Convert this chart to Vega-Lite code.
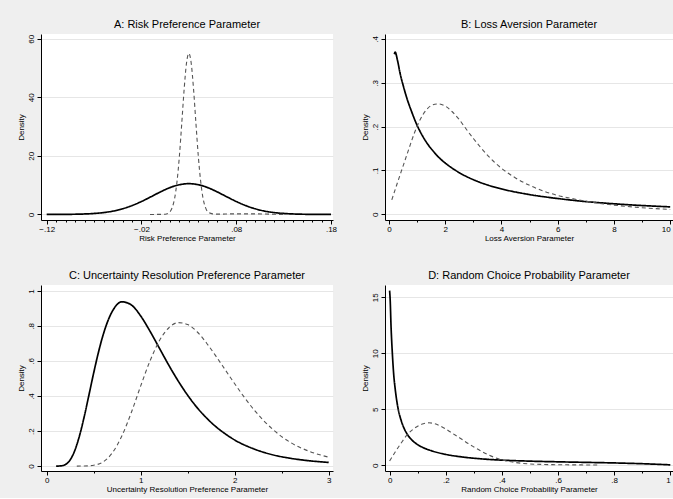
{
  "$schema": "https://vega.github.io/schema/vega-lite/v6.json",
  "background": "#efefef",
  "padding": {"left": 17, "top": 19, "right": 0, "bottom": 5},
  "columns": 2,
  "bounds": "flush",
  "spacing": {"row": 65, "column": 52},
  "datasets": {
    "A": [
      {"x": -0.12, "y": 0.004, "series": "s1"}, {"x": -0.11, "y": 0.012, "series": "s1"},
      {"x": -0.10, "y": 0.03, "series": "s1"}, {"x": -0.09, "y": 0.07, "series": "s1"},
      {"x": -0.08, "y": 0.16, "series": "s1"}, {"x": -0.07, "y": 0.33, "series": "s1"},
      {"x": -0.06, "y": 0.64, "series": "s1"}, {"x": -0.05, "y": 1.14, "series": "s1"},
      {"x": -0.04, "y": 1.93, "series": "s1"}, {"x": -0.03, "y": 3.02, "series": "s1"},
      {"x": -0.02, "y": 4.42, "series": "s1"}, {"x": -0.01, "y": 6.03, "series": "s1"},
      {"x": 0.0, "y": 7.69, "series": "s1"}, {"x": 0.01, "y": 9.15, "series": "s1"},
      {"x": 0.02, "y": 10.14, "series": "s1"}, {"x": 0.03, "y": 10.5, "series": "s1"},
      {"x": 0.04, "y": 10.14, "series": "s1"}, {"x": 0.05, "y": 9.15, "series": "s1"},
      {"x": 0.06, "y": 7.69, "series": "s1"}, {"x": 0.07, "y": 6.03, "series": "s1"},
      {"x": 0.08, "y": 4.42, "series": "s1"}, {"x": 0.09, "y": 3.02, "series": "s1"},
      {"x": 0.10, "y": 1.93, "series": "s1"}, {"x": 0.11, "y": 1.14, "series": "s1"},
      {"x": 0.12, "y": 0.64, "series": "s1"}, {"x": 0.13, "y": 0.33, "series": "s1"},
      {"x": 0.14, "y": 0.16, "series": "s1"}, {"x": 0.15, "y": 0.07, "series": "s1"},
      {"x": 0.16, "y": 0.03, "series": "s1"}, {"x": 0.17, "y": 0.012, "series": "s1"},
      {"x": 0.18, "y": 0.004, "series": "s1"},
      {"x": -0.011, "y": 0, "series": "s2"}, {"x": 0.0, "y": 0.01, "series": "s2"},
      {"x": 0.005, "y": 0.08, "series": "s2"}, {"x": 0.01, "y": 0.9, "series": "s2"},
      {"x": 0.0125, "y": 2.4, "series": "s2"}, {"x": 0.015, "y": 5.5, "series": "s2"},
      {"x": 0.0175, "y": 11.2, "series": "s2"}, {"x": 0.02, "y": 19.8, "series": "s2"},
      {"x": 0.0225, "y": 31, "series": "s2"}, {"x": 0.025, "y": 42.6, "series": "s2"},
      {"x": 0.0275, "y": 51.6, "series": "s2"}, {"x": 0.03, "y": 55, "series": "s2"},
      {"x": 0.0325, "y": 51.6, "series": "s2"}, {"x": 0.035, "y": 42.6, "series": "s2"},
      {"x": 0.0375, "y": 31, "series": "s2"}, {"x": 0.04, "y": 19.8, "series": "s2"},
      {"x": 0.0425, "y": 11.2, "series": "s2"}, {"x": 0.045, "y": 5.5, "series": "s2"},
      {"x": 0.0475, "y": 2.4, "series": "s2"}, {"x": 0.05, "y": 0.9, "series": "s2"},
      {"x": 0.055, "y": 0.2, "series": "s2"}, {"x": 0.06, "y": 0.1, "series": "s2"},
      {"x": 0.08, "y": 0.2, "series": "s2"}, {"x": 0.10, "y": 0.2, "series": "s2"},
      {"x": 0.115, "y": 0.1, "series": "s2"}, {"x": 0.13, "y": 0, "series": "s2"}
    ],
    "B": [
      {"x": 0.19, "y": 0.365, "series": "s1"}, {"x": 0.22, "y": 0.37, "series": "s1"},
      {"x": 0.3, "y": 0.352, "series": "s1"}, {"x": 0.4, "y": 0.32, "series": "s1"},
      {"x": 0.5, "y": 0.295, "series": "s1"}, {"x": 0.64, "y": 0.264, "series": "s1"},
      {"x": 0.8, "y": 0.235, "series": "s1"}, {"x": 1.0, "y": 0.203, "series": "s1"},
      {"x": 1.2, "y": 0.178, "series": "s1"}, {"x": 1.4, "y": 0.158, "series": "s1"},
      {"x": 1.6, "y": 0.142, "series": "s1"}, {"x": 1.8, "y": 0.128, "series": "s1"},
      {"x": 2.0, "y": 0.117, "series": "s1"}, {"x": 2.5, "y": 0.095, "series": "s1"},
      {"x": 3.0, "y": 0.079, "series": "s1"}, {"x": 3.5, "y": 0.067, "series": "s1"},
      {"x": 4.0, "y": 0.058, "series": "s1"}, {"x": 5.0, "y": 0.045, "series": "s1"},
      {"x": 6.0, "y": 0.036, "series": "s1"}, {"x": 7.0, "y": 0.029, "series": "s1"},
      {"x": 8.0, "y": 0.024, "series": "s1"}, {"x": 9.0, "y": 0.02, "series": "s1"},
      {"x": 10.0, "y": 0.017, "series": "s1"},
      {"x": 0.1, "y": 0.033, "series": "s2"}, {"x": 0.3, "y": 0.072, "series": "s2"},
      {"x": 0.5, "y": 0.11, "series": "s2"}, {"x": 0.7, "y": 0.148, "series": "s2"},
      {"x": 0.9, "y": 0.185, "series": "s2"}, {"x": 1.1, "y": 0.215, "series": "s2"},
      {"x": 1.3, "y": 0.236, "series": "s2"}, {"x": 1.5, "y": 0.248, "series": "s2"},
      {"x": 1.75, "y": 0.252, "series": "s2"}, {"x": 2.0, "y": 0.247, "series": "s2"},
      {"x": 2.25, "y": 0.234, "series": "s2"}, {"x": 2.5, "y": 0.216, "series": "s2"},
      {"x": 2.75, "y": 0.194, "series": "s2"}, {"x": 3.0, "y": 0.173, "series": "s2"},
      {"x": 3.5, "y": 0.135, "series": "s2"}, {"x": 4.0, "y": 0.105, "series": "s2"},
      {"x": 4.5, "y": 0.083, "series": "s2"}, {"x": 5.0, "y": 0.066, "series": "s2"},
      {"x": 5.5, "y": 0.053, "series": "s2"}, {"x": 6.0, "y": 0.043, "series": "s2"},
      {"x": 6.5, "y": 0.036, "series": "s2"}, {"x": 7.0, "y": 0.030, "series": "s2"},
      {"x": 7.5, "y": 0.025, "series": "s2"}, {"x": 8.0, "y": 0.021, "series": "s2"},
      {"x": 9.0, "y": 0.015, "series": "s2"}, {"x": 10.0, "y": 0.011, "series": "s2"}
    ],
    "C": [
      {"x": 0.1, "y": 0.0, "series": "s1"}, {"x": 0.15, "y": 0.0012, "series": "s1"},
      {"x": 0.2, "y": 0.0094, "series": "s1"}, {"x": 0.25, "y": 0.036, "series": "s1"},
      {"x": 0.3, "y": 0.091, "series": "s1"}, {"x": 0.35, "y": 0.176, "series": "s1"},
      {"x": 0.4, "y": 0.285, "series": "s1"}, {"x": 0.45, "y": 0.408, "series": "s1"},
      {"x": 0.5, "y": 0.533, "series": "s1"}, {"x": 0.55, "y": 0.649, "series": "s1"},
      {"x": 0.6, "y": 0.749, "series": "s1"}, {"x": 0.7, "y": 0.886, "series": "s1"},
      {"x": 0.8, "y": 0.938, "series": "s1"}, {"x": 0.9, "y": 0.92, "series": "s1"},
      {"x": 1.0, "y": 0.857, "series": "s1"}, {"x": 1.1, "y": 0.769, "series": "s1"},
      {"x": 1.2, "y": 0.672, "series": "s1"}, {"x": 1.3, "y": 0.575, "series": "s1"},
      {"x": 1.4, "y": 0.485, "series": "s1"}, {"x": 1.5, "y": 0.404, "series": "s1"},
      {"x": 1.6, "y": 0.334, "series": "s1"}, {"x": 1.7, "y": 0.275, "series": "s1"},
      {"x": 1.8, "y": 0.225, "series": "s1"}, {"x": 1.9, "y": 0.184, "series": "s1"},
      {"x": 2.0, "y": 0.149, "series": "s1"}, {"x": 2.2, "y": 0.099, "series": "s1"},
      {"x": 2.4, "y": 0.065, "series": "s1"}, {"x": 2.6, "y": 0.044, "series": "s1"},
      {"x": 2.8, "y": 0.03, "series": "s1"}, {"x": 3.0, "y": 0.021, "series": "s1"},
      {"x": 0.32, "y": 0.0, "series": "s2"}, {"x": 0.4, "y": 0.0005, "series": "s2"},
      {"x": 0.5, "y": 0.005, "series": "s2"}, {"x": 0.6, "y": 0.024, "series": "s2"},
      {"x": 0.7, "y": 0.077, "series": "s2"}, {"x": 0.8, "y": 0.173, "series": "s2"},
      {"x": 0.9, "y": 0.306, "series": "s2"}, {"x": 1.0, "y": 0.458, "series": "s2"},
      {"x": 1.1, "y": 0.602, "series": "s2"}, {"x": 1.2, "y": 0.717, "series": "s2"},
      {"x": 1.3, "y": 0.79, "series": "s2"}, {"x": 1.4, "y": 0.819, "series": "s2"},
      {"x": 1.5, "y": 0.808, "series": "s2"}, {"x": 1.6, "y": 0.767, "series": "s2"},
      {"x": 1.7, "y": 0.703, "series": "s2"}, {"x": 1.8, "y": 0.628, "series": "s2"},
      {"x": 1.9, "y": 0.549, "series": "s2"}, {"x": 2.0, "y": 0.47, "series": "s2"},
      {"x": 2.2, "y": 0.325, "series": "s2"}, {"x": 2.4, "y": 0.212, "series": "s2"},
      {"x": 2.6, "y": 0.133, "series": "s2"}, {"x": 2.8, "y": 0.083, "series": "s2"},
      {"x": 3.0, "y": 0.051, "series": "s2"}
    ],
    "D": [
      {"x": 0.0, "y": 15.6, "series": "s1"}, {"x": 0.002, "y": 14.8, "series": "s1"},
      {"x": 0.005, "y": 12.5, "series": "s1"}, {"x": 0.01, "y": 9.9, "series": "s1"},
      {"x": 0.015, "y": 8.0, "series": "s1"}, {"x": 0.02, "y": 6.8, "series": "s1"},
      {"x": 0.03, "y": 5.1, "series": "s1"}, {"x": 0.04, "y": 4.1, "series": "s1"},
      {"x": 0.05, "y": 3.4, "series": "s1"}, {"x": 0.06, "y": 2.9, "series": "s1"},
      {"x": 0.08, "y": 2.25, "series": "s1"}, {"x": 0.1, "y": 1.85, "series": "s1"},
      {"x": 0.12, "y": 1.58, "series": "s1"}, {"x": 0.15, "y": 1.3, "series": "s1"},
      {"x": 0.2, "y": 0.98, "series": "s1"}, {"x": 0.25, "y": 0.78, "series": "s1"},
      {"x": 0.3, "y": 0.64, "series": "s1"}, {"x": 0.35, "y": 0.54, "series": "s1"},
      {"x": 0.4, "y": 0.47, "series": "s1"}, {"x": 0.5, "y": 0.38, "series": "s1"},
      {"x": 0.6, "y": 0.32, "series": "s1"}, {"x": 0.7, "y": 0.27, "series": "s1"},
      {"x": 0.8, "y": 0.22, "series": "s1"}, {"x": 0.9, "y": 0.15, "series": "s1"},
      {"x": 1.0, "y": 0.05, "series": "s1"},
      {"x": 0.0, "y": 0.4, "series": "s2"}, {"x": 0.02, "y": 1.2, "series": "s2"},
      {"x": 0.04, "y": 1.95, "series": "s2"}, {"x": 0.06, "y": 2.65, "series": "s2"},
      {"x": 0.08, "y": 3.15, "series": "s2"}, {"x": 0.1, "y": 3.5, "series": "s2"},
      {"x": 0.12, "y": 3.72, "series": "s2"}, {"x": 0.14, "y": 3.8, "series": "s2"},
      {"x": 0.16, "y": 3.72, "series": "s2"}, {"x": 0.18, "y": 3.52, "series": "s2"},
      {"x": 0.2, "y": 3.25, "series": "s2"}, {"x": 0.22, "y": 2.92, "series": "s2"},
      {"x": 0.25, "y": 2.45, "series": "s2"}, {"x": 0.28, "y": 1.95, "series": "s2"},
      {"x": 0.3, "y": 1.65, "series": "s2"}, {"x": 0.33, "y": 1.22, "series": "s2"},
      {"x": 0.36, "y": 0.85, "series": "s2"}, {"x": 0.4, "y": 0.5, "series": "s2"},
      {"x": 0.45, "y": 0.25, "series": "s2"}, {"x": 0.5, "y": 0.13, "series": "s2"},
      {"x": 0.55, "y": 0.08, "series": "s2"}, {"x": 0.6, "y": 0.06, "series": "s2"},
      {"x": 0.7, "y": 0.04, "series": "s2"}, {"x": 0.75, "y": 0.03, "series": "s2"}
    ]
  },
  "concat": [
    {
      "title": "A: Risk Preference Parameter",
      "width": 292,
      "height": 186,
      "data": {"name": "A"},
      "mark": {"type": "line", "interpolate": "monotone"},
      "encoding": {
        "x": {
          "field": "x", "type": "quantitative", "title": "Risk Preference Parameter",
          "scale": {"domain": [-0.126, 0.1821], "nice": false, "zero": false},
          "axis": {
            "values": [-0.12, -0.11, -0.1, -0.09, -0.08, -0.07, -0.06, -0.05, -0.04, -0.03, -0.02, -0.01, 0, 0.01, 0.02, 0.03, 0.04, 0.05, 0.06, 0.07, 0.08, 0.09, 0.1, 0.11, 0.12, 0.13, 0.14, 0.15, 0.16, 0.17, 0.18],
            "labelExpr": "round((datum.value + 0.12) * 100) % 10 == 0 ? replace(format(datum.value, '.2f'), '0.', '.') : ''",
            "tickSize": {"condition": {"test": "round((datum.value + 0.12) * 100) % 10 == 0", "value": 4}, "value": 2}
          }
        },
        "y": {
          "field": "y", "type": "quantitative", "title": "Density",
          "scale": {"domain": [-1.9, 61.6], "nice": false},
          "axis": {"values": [0, 20, 40, 60]}
        },
        "color": {"field": "series", "type": "nominal", "scale": {"domain": ["s1", "s2"], "range": ["#000000", "#555555"]}, "legend": null},
        "strokeDash": {"field": "series", "type": "nominal", "scale": {"domain": ["s1", "s2"], "range": [[1, 0], [4, 3]]}, "legend": null},
        "strokeWidth": {"field": "series", "type": "nominal", "scale": {"domain": ["s1", "s2"], "range": [1.7, 1.1]}, "legend": null}
      }
    },
    {
      "title": "B: Loss Aversion Parameter",
      "width": 288,
      "height": 186,
      "data": {"name": "B"},
      "mark": {"type": "line", "interpolate": "monotone"},
      "encoding": {
        "x": {
          "field": "x", "type": "quantitative", "title": "Loss Aversion Parameter",
          "scale": {"domain": [-0.142, 10.1], "nice": false, "zero": false},
          "axis": {
            "values": [0, 1, 2, 3, 4, 5, 6, 7, 8, 9, 10],
            "labelExpr": "datum.value % 2 == 0 ? format(datum.value, 'd') : ''",
            "labelAlign": {"condition": {"test": "datum.value == 10", "value": "right"}, "value": "center"},
            "tickSize": {"condition": {"test": "datum.value % 2 == 0", "value": 4}, "value": 2}
          }
        },
        "y": {
          "field": "y", "type": "quantitative", "title": "Density",
          "scale": {"domain": [-0.013, 0.4114], "nice": false},
          "axis": {"values": [0, 0.1, 0.2, 0.3, 0.4], "labelExpr": "replace(format(datum.value, '~g'), '0.', '.')"}
        },
        "color": {"field": "series", "type": "nominal", "scale": {"domain": ["s1", "s2"], "range": ["#000000", "#555555"]}, "legend": null},
        "strokeDash": {"field": "series", "type": "nominal", "scale": {"domain": ["s1", "s2"], "range": [[1, 0], [4, 3]]}, "legend": null},
        "strokeWidth": {"field": "series", "type": "nominal", "scale": {"domain": ["s1", "s2"], "range": [1.3, 1.1]}, "legend": null}
      }
    },
    {
      "title": "C: Uncertainty Resolution Preference Parameter",
      "width": 292,
      "height": 186,
      "data": {"name": "C"},
      "mark": {"type": "line", "interpolate": "monotone"},
      "encoding": {
        "x": {
          "field": "x", "type": "quantitative", "title": "Uncertainty Resolution Preference Parameter",
          "scale": {"domain": [-0.061, 3.046], "nice": false, "zero": false},
          "axis": {
            "values": [0, 0.5, 1, 1.5, 2, 2.5, 3],
            "labelExpr": "datum.value % 1 == 0 ? format(datum.value, 'd') : ''",
            "tickSize": {"condition": {"test": "datum.value % 1 == 0", "value": 4}, "value": 2}
          }
        },
        "y": {
          "field": "y", "type": "quantitative", "title": "Density",
          "scale": {"domain": [-0.028, 1.034], "nice": false},
          "axis": {"values": [0, 0.2, 0.4, 0.6, 0.8, 1], "labelExpr": "replace(format(datum.value, '~g'), '0.', '.')"}
        },
        "color": {"field": "series", "type": "nominal", "scale": {"domain": ["s1", "s2"], "range": ["#000000", "#555555"]}, "legend": null},
        "strokeDash": {"field": "series", "type": "nominal", "scale": {"domain": ["s1", "s2"], "range": [[1, 0], [4, 3]]}, "legend": null},
        "strokeWidth": {"field": "series", "type": "nominal", "scale": {"domain": ["s1", "s2"], "range": [1.7, 1.1]}, "legend": null}
      }
    },
    {
      "title": "D: Random Choice Probability Parameter",
      "width": 288,
      "height": 186,
      "data": {"name": "D"},
      "mark": {"type": "line", "interpolate": "monotone"},
      "encoding": {
        "x": {
          "field": "x", "type": "quantitative", "title": "Random Choice Probability Parameter",
          "scale": {"domain": [-0.0164, 1.0096], "nice": false, "zero": false},
          "axis": {
            "values": [0, 0.1, 0.2, 0.3, 0.4, 0.5, 0.6, 0.7, 0.8, 0.9, 1],
            "labelExpr": "round(datum.value * 10) % 2 == 0 ? replace(format(datum.value, '~g'), '0.', '.') : ''",
            "labelAlign": {"condition": {"test": "datum.value == 1", "value": "right"}, "value": "center"},
            "tickSize": {"condition": {"test": "round(datum.value * 10) % 2 == 0", "value": 4}, "value": 2}
          }
        },
        "y": {
          "field": "y", "type": "quantitative", "title": "Density",
          "scale": {"domain": [-0.5, 16.1], "nice": false},
          "axis": {"values": [0, 5, 10, 15]}
        },
        "color": {"field": "series", "type": "nominal", "scale": {"domain": ["s1", "s2"], "range": ["#000000", "#555555"]}, "legend": null},
        "strokeDash": {"field": "series", "type": "nominal", "scale": {"domain": ["s1", "s2"], "range": [[1, 0], [4, 3]]}, "legend": null},
        "strokeWidth": {"field": "series", "type": "nominal", "scale": {"domain": ["s1", "s2"], "range": [1.4, 1.1]}, "legend": null}
      }
    }
  ],
  "config": {
    "font": "Liberation Sans",
    "view": {"fill": "#ffffff", "stroke": null},
    "title": {"fontSize": 11, "fontWeight": "normal", "color": "#000000", "anchor": "middle", "frame": "group", "offset": 4, "baseline": "alphabetic"},
    "axis": {
      "labelFont": "Liberation Sans", "labelFontSize": 8, "labelColor": "#000000",
      "titleFont": "Liberation Sans", "titleFontSize": 8, "titleFontWeight": "normal", "titleColor": "#000000",
      "domainColor": "#000000", "domainWidth": 1, "tickColor": "#000000", "tickWidth": 1, "tickSize": 4,
      "labelOverlap": false, "grid": false
    },
    "axisX": {"labelPadding": 1, "titlePadding": 1},
    "axisY": {
      "grid": true, "gridColor": "#e6e6e6", "gridWidth": 1,
      "labelAngle": -90, "labelAlign": "center", "labelBaseline": "bottom",
      "labelPadding": 2, "titlePadding": 2
    },
    "line": {"strokeCap": "butt", "strokeJoin": "round"}
  }
}
